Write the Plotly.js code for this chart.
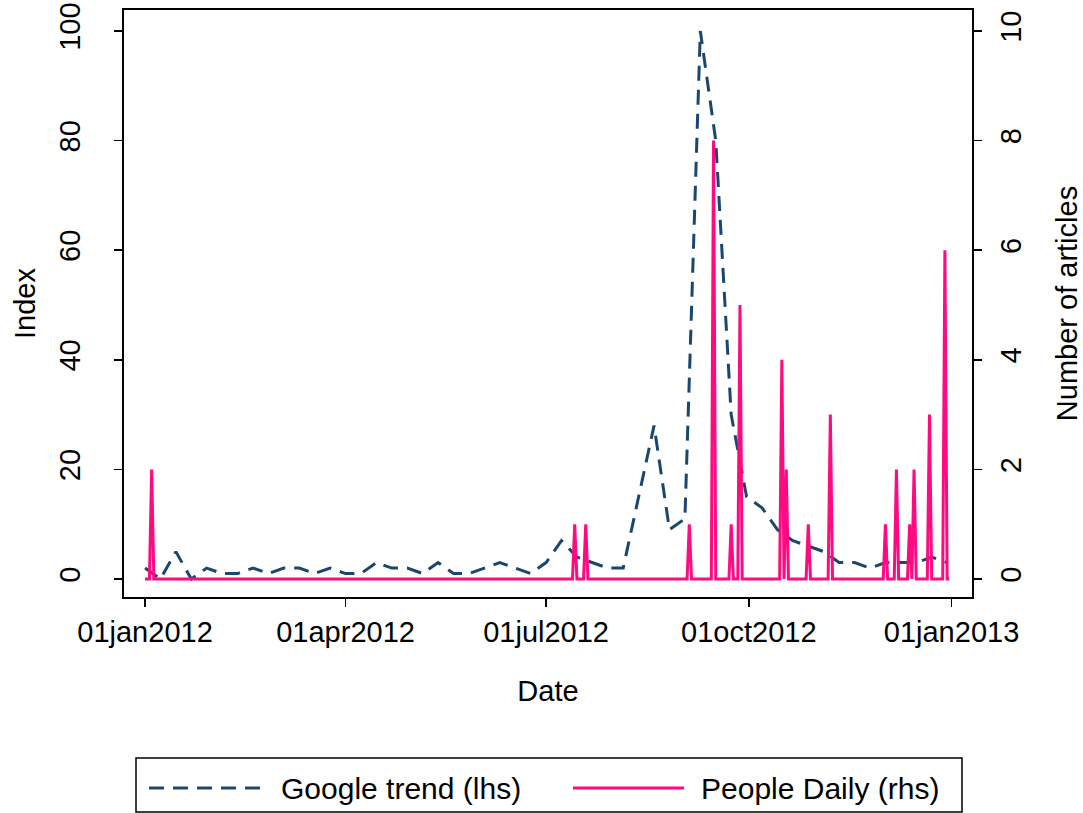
<!DOCTYPE html>
<html>
<head>
<meta charset="utf-8">
<script src="https://cdn.plot.ly/plotly-3.0.1.min.js"></script>
<style>html,body{margin:0;padding:0;background:#fff;}#chart{width:1083px;height:813px;}</style>
</head>
<body>
<div id="chart"></div>
<script>
// ---------------- DATA ----------------
const seriesNames = ['Google trend (lhs)', 'People Daily (rhs)'];
// Google trend: weekly index, weeks starting Sunday 2012-01-01
const gtStartDate = '2012-01-01';
const gtValues = [2, 0, 5, 0, 2, 1, 1, 2, 1, 2, 2, 1, 2, 1, 1, 3, 2, 2, 1, 3,
                  1, 1, 2, 3, 2, 1, 3, 7, 4, 3, 2, 2, 15, 28, 9, 11, 100, 80, 30, 15,
                  13, 9, 7, 6, 5, 3, 3, 2, 3, 3, 3, 4, 3];
// People Daily: number of articles per day (days not listed have 0)
const pdFirstDay = '2012-01-01';
const pdLastDay = '2012-12-31';
const pdDates = ['2012-01-04', '2012-07-14', '2012-07-19', '2012-09-04', '2012-09-15',
                 '2012-09-23', '2012-09-27', '2012-10-16', '2012-10-18', '2012-10-28',
                 '2012-11-07', '2012-12-02', '2012-12-07', '2012-12-13', '2012-12-15',
                 '2012-12-22', '2012-12-29'];
const pdCounts = [2, 1, 1, 1, 8, 1, 5, 4, 2, 1, 3, 1, 2, 1, 2, 3, 6];
// axis ticks
const xTickVals = ['2012-01-01', '2012-04-01', '2012-07-01', '2012-10-01', '2013-01-01'];
const xTickText = ['01jan2012', '01apr2012', '01jul2012', '01oct2012', '01jan2013'];
const yTickVals = [0, 20, 40, 60, 80, 100];
const y2TickVals = [0, 2, 4, 6, 8, 10];
const xTitle = 'Date', yTitle = 'Index', y2Title = 'Number of articles';

// ---------------- BUILD ----------------
function iso(d){return d.toISOString().slice(0,10);}
function addDays(s, n){const d = new Date(s + 'T00:00:00Z'); d.setUTCDate(d.getUTCDate() + n); return iso(d);}
const gtDates = gtValues.map((_, i) => addDays(gtStartDate, 7 * i));
const pdMap = {}; pdDates.forEach((d, i) => pdMap[d] = pdCounts[i]);
const pdX = [], pdY = [];
for (let d = pdFirstDay; d <= pdLastDay; d = addDays(d, 1)) { pdX.push(d); pdY.push(pdMap[d] || 0); }

const W = 1083, H = 813, M = {l: 124, r: 111, t: 10, b: 216};
const PW = W - M.l - M.r, PH = H - M.t - M.b;
const fx = X => (X - M.l) / PW, fy = Y => (H - M.b - Y) / PH;

const navy = '#1a476f', pink = '#ff0a80';
const FONT = 'Liberation Sans, Arial, Helvetica, sans-serif';
const FS = 29;

const traces = [
  {x: gtDates, y: gtValues, type: 'scatter', mode: 'lines', name: seriesNames[0],
   line: {color: navy, width: 3, dash: '15px,9px'}, yaxis: 'y'},
  {x: pdX, y: pdY, type: 'scatter', mode: 'lines', name: seriesNames[1],
   line: {color: pink, width: 3}, yaxis: 'y2'}
];

const axisCommon = {showgrid: false, zeroline: false, showline: true, linecolor: '#000', linewidth: 2,
  ticks: 'outside', ticklen: 8, tickwidth: 1.5, tickcolor: '#000',
  tickfont: {family: FONT, size: FS, color: '#000'}};

const layout = {
  width: W, height: H, margin: M, paper_bgcolor: '#fff', plot_bgcolor: '#fff',
  showlegend: false,
  font: {family: FONT, size: FS, color: '#000'},
  xaxis: Object.assign({}, axisCommon, {type: 'date', range: ['2011-12-22 11:00', '2013-01-10 07:00'],
    tickmode: 'array', tickvals: xTickVals, ticktext: xTickText, mirror: true,
    title: {text: xTitle, font: {family: FONT, size: FS}, standoff: 34}}),
  yaxis: Object.assign({}, axisCommon, {range: [-3.28, 103.83], tickmode: 'array', tickvals: yTickVals,
    tickangle: -90, ticklabelstandoff: 22,
    title: {text: yTitle, font: {family: FONT, size: FS}, standoff: 10}}),
  yaxis2: Object.assign({}, axisCommon, {range: [-0.328, 10.383], tickmode: 'array', tickvals: y2TickVals,
    overlaying: 'y', side: 'right', tickangle: -90, ticklabelstandoff: 4,
    title: {text: y2Title, font: {family: FONT, size: FS}, standoff: 34}}),
  shapes: [
    {type: 'rect', xref: 'paper', yref: 'paper', x0: fx(136), x1: fx(962), y0: fy(812), y1: fy(758),
     line: {color: '#000', width: 1.5}, fillcolor: 'rgba(0,0,0,0)'},
    {type: 'line', xref: 'paper', yref: 'paper', x0: fx(149), x1: fx(260), y0: fy(788), y1: fy(788),
     line: {color: navy, width: 3, dash: '15px,9px'}},
    {type: 'line', xref: 'paper', yref: 'paper', x0: fx(573), x1: fx(684), y0: fy(788), y1: fy(788),
     line: {color: pink, width: 3}}
  ],
  annotations: [
    {xref: 'paper', yref: 'paper', x: fx(279), y: fy(788), xanchor: 'left', yanchor: 'middle',
     text: seriesNames[0], showarrow: false, font: {family: FONT, size: 30, color: '#000'}},
    {xref: 'paper', yref: 'paper', x: fx(699), y: fy(788), xanchor: 'left', yanchor: 'middle',
     text: seriesNames[1], showarrow: false, font: {family: FONT, size: 30, color: '#000'}}
  ]
};

Plotly.newPlot('chart', traces, layout, {staticPlot: true, displayModeBar: false});
</script>
</body>
</html>
